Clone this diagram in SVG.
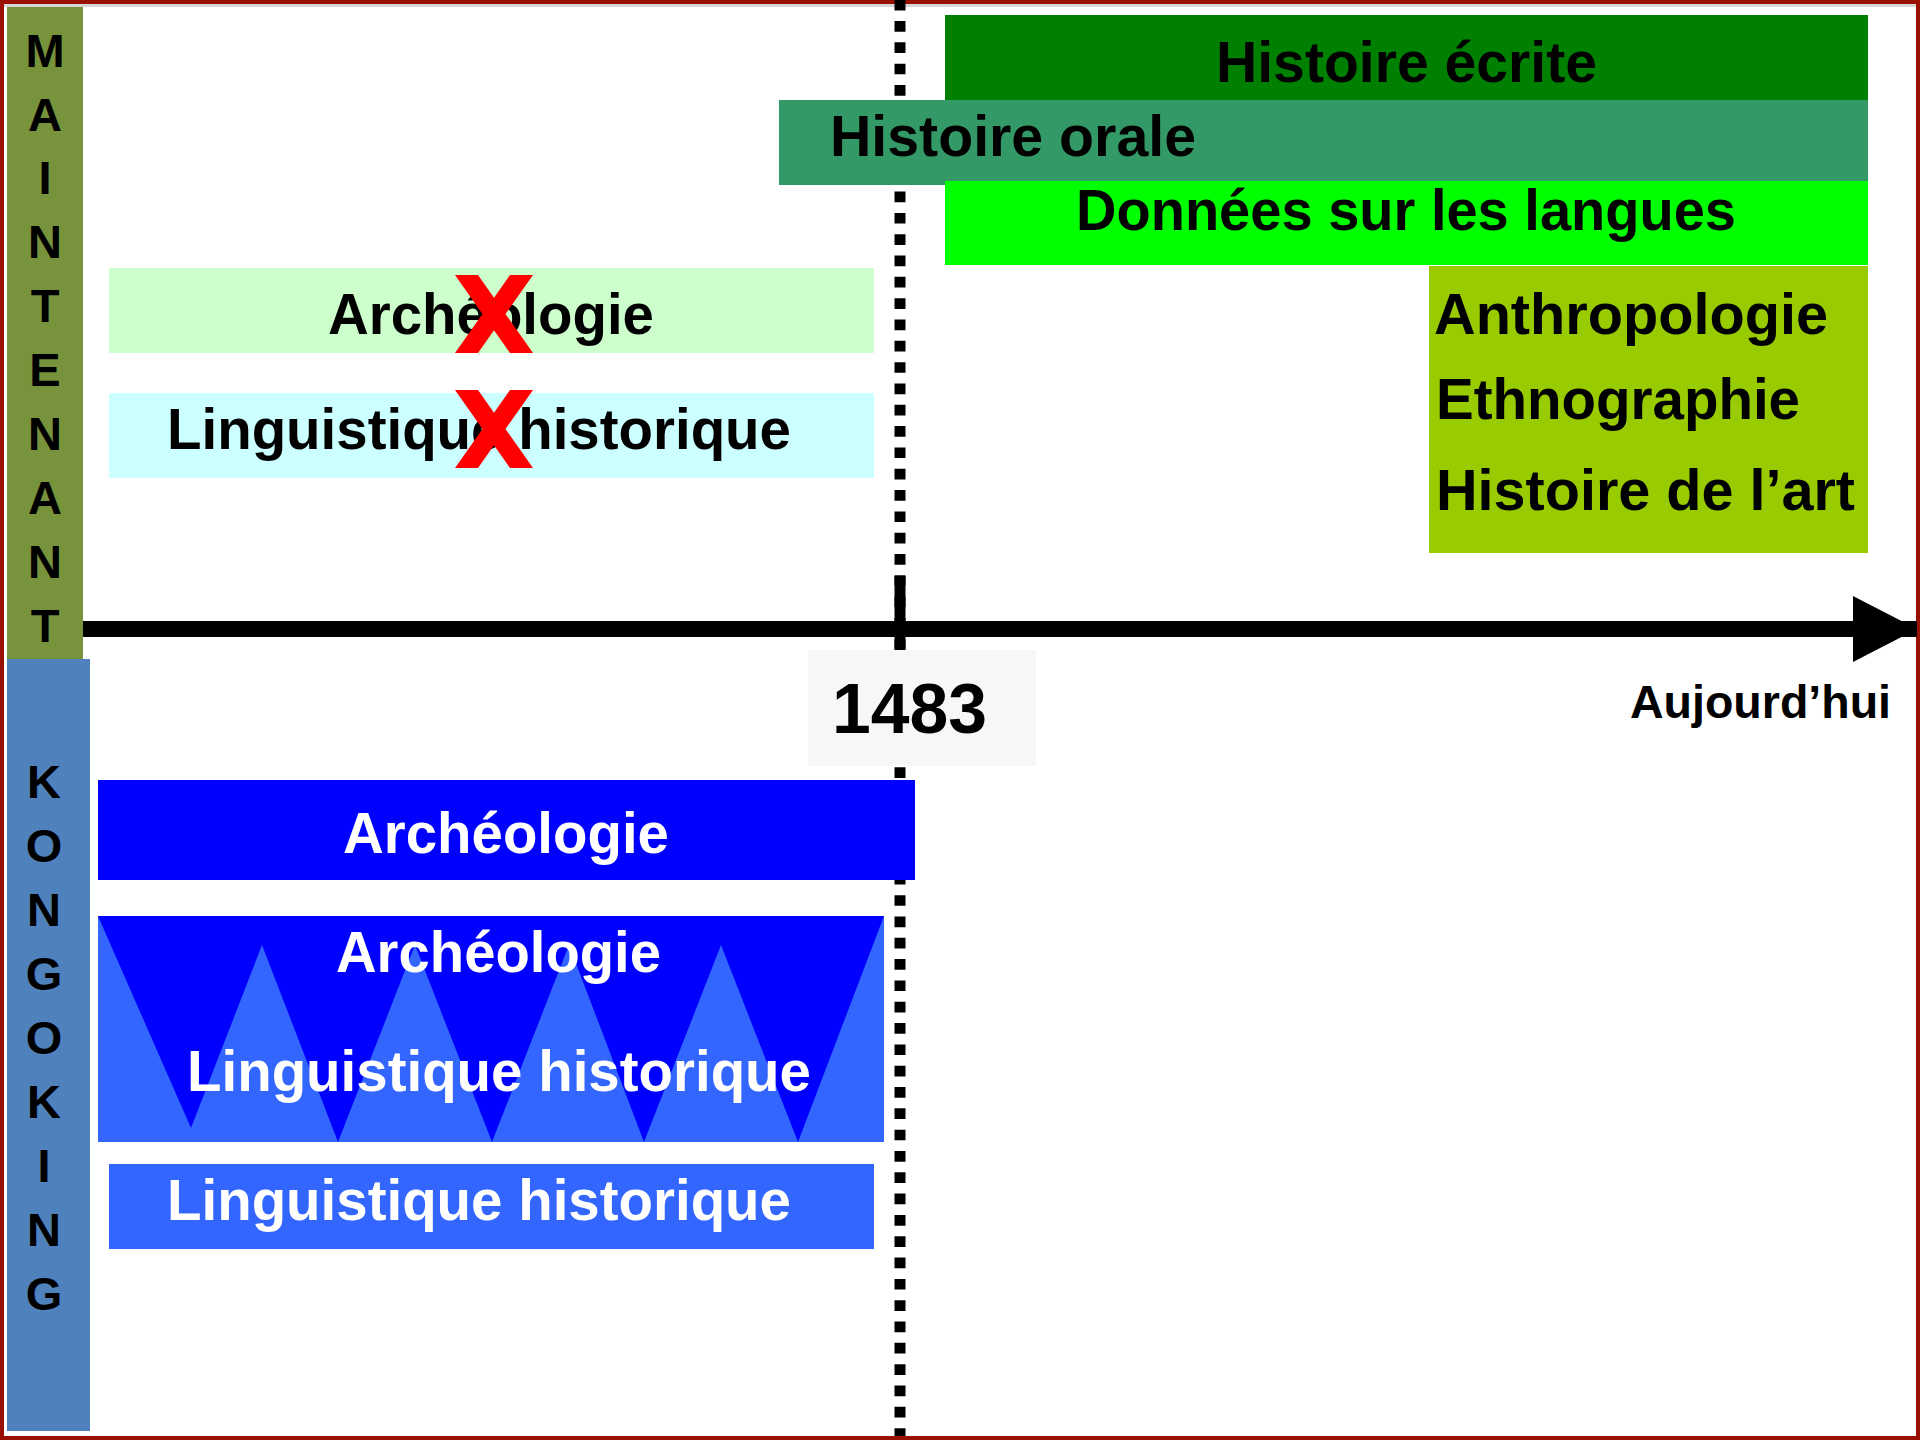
<svg xmlns="http://www.w3.org/2000/svg" xmlns:xlink="http://www.w3.org/1999/xlink" width="1920" height="1440" viewBox="0 0 1920 1440">
<style>
text { font-family: "Liberation Sans", Arial, sans-serif; font-weight: bold; }
.lbl { font-size: 57px; fill: #000; }
.wlbl { font-size: 57px; fill: #fff; }
.vert { font-size: 47px; fill: #000; text-anchor: middle; }
.mid { text-anchor: middle; }
</style>
<defs>
<path id="cross" d="M0,0 L23,0 L39,22.7 L55,0 L78,0 L50.5,39 L78,78 L55,78 L39,55.3 L23,78 L0,78 L27.5,39 Z" fill="#FF0000"/>
<marker id="arrowhead" markerUnits="userSpaceOnUse" markerWidth="66" markerHeight="68" refX="64" refY="33" orient="auto">
<path d="M0,0 L64,33 L0,66 Z" fill="#000"/>
</marker>
</defs>
<rect x="0" y="0" width="1920" height="1440" fill="#fff"/>
<rect x="2" y="2" width="1916" height="1436" fill="none" stroke="#991002" stroke-width="4"/>
<rect x="4" y="4" width="1912" height="3" fill="#D6D6D6"/>

<g id="connectors">
<line x1="900" y1="-0.3" x2="900" y2="1436" stroke="#000" stroke-width="11" stroke-dasharray="10.7 10.62"/>
<line x1="900" y1="576" x2="900" y2="649" stroke="#000" stroke-width="11"/>
<line x1="83" y1="629" x2="1917" y2="629" stroke="#000" stroke-width="16" marker-end="url(#arrowhead)"/>
</g>

<g id="band-maintenant">
<rect x="7" y="7" width="76" height="652" fill="#77933C"/>
<text class="vert" x="45" y="67">M</text>
<text class="vert" x="45" y="131">A</text>
<text class="vert" x="45" y="194">I</text>
<text class="vert" x="45" y="258">N</text>
<text class="vert" x="45" y="322">T</text>
<text class="vert" x="45" y="386">E</text>
<text class="vert" x="45" y="450">N</text>
<text class="vert" x="45" y="514">A</text>
<text class="vert" x="45" y="578">N</text>
<text class="vert" x="45" y="642">T</text>
</g>

<g id="band-kongoking">
<rect x="7" y="659" width="83" height="772" fill="#4F81BD"/>
<text class="vert" x="44" y="798">K</text>
<text class="vert" x="44" y="862">O</text>
<text class="vert" x="44" y="926">N</text>
<text class="vert" x="44" y="990">G</text>
<text class="vert" x="44" y="1054">O</text>
<text class="vert" x="44" y="1118">K</text>
<text class="vert" x="44" y="1182">I</text>
<text class="vert" x="44" y="1246">N</text>
<text class="vert" x="44" y="1310">G</text>
</g>

<g id="histoire-ecrite">
<rect x="945" y="15" width="923" height="85" fill="#008000"/>
<text class="lbl mid" x="1406.5" y="82" textLength="381" lengthAdjust="spacingAndGlyphs">Histoire écrite</text>
</g>

<g id="histoire-orale">
<rect x="779" y="100" width="1089" height="85" fill="#339966"/>
<text class="lbl" x="830" y="156" textLength="366" lengthAdjust="spacingAndGlyphs">Histoire orale</text>
</g>

<g id="donnees-langues">
<rect x="945" y="181" width="923" height="84" fill="#00FF00"/>
<text class="lbl mid" x="1406" y="230" textLength="660" lengthAdjust="spacingAndGlyphs">Données sur les langues</text>
</g>

<g id="anthropologie">
<rect x="1429" y="266" width="439" height="287" fill="#99CC00"/>
<text class="lbl" x="1434" y="334" textLength="394" lengthAdjust="spacingAndGlyphs">Anthropologie</text>
<text class="lbl" x="1436" y="419" textLength="364" lengthAdjust="spacingAndGlyphs">Ethnographie</text>
<text class="lbl" x="1436" y="510" textLength="419" lengthAdjust="spacingAndGlyphs">Histoire de l’art</text>
</g>

<g id="archeologie-maintenant">
<rect x="109" y="268" width="765" height="85" fill="#CCFFCC"/>
<text class="lbl mid" x="491" y="334" textLength="326" lengthAdjust="spacingAndGlyphs">Archéologie</text>
<use xlink:href="#cross" href="#cross" x="455" y="275"/>
</g>

<g id="linguistique-maintenant">
<rect x="109" y="393" width="765" height="85" fill="#CCFFFF"/>
<text class="lbl mid" x="479" y="449" textLength="624" lengthAdjust="spacingAndGlyphs">Linguistique historique</text>
<use xlink:href="#cross" href="#cross" x="455" y="390"/>
</g>

<g id="date-1483">
<rect x="808" y="650" width="228" height="116" fill="#F7F7F7"/>
<text x="832" y="733" font-size="70" fill="#000" textLength="155" lengthAdjust="spacingAndGlyphs">1483</text>
</g>

<g id="aujourdhui">
<text x="1630" y="718" font-size="46" fill="#000" textLength="261" lengthAdjust="spacingAndGlyphs">Aujourd’hui</text>
</g>

<g id="archeologie-kongoking">
<rect x="98" y="780" width="817" height="100" fill="#0000FF"/>
<text class="wlbl mid" x="506" y="853" textLength="326" lengthAdjust="spacingAndGlyphs">Archéologie</text>
</g>

<g id="archeologie-linguistique-kongoking">
<rect x="98" y="916" width="786" height="226" fill="#0000FF"/>
<polygon points="98,916 191,1128 262,945 338,1142 415,945 492,1142 569,945 644,1142 721,945 798,1142 884,916 884,1142 98,1142" fill="#3366FF"/>
<text class="wlbl mid" x="498.5" y="972" textLength="325" lengthAdjust="spacingAndGlyphs">Archéologie</text>
<text class="wlbl mid" x="499" y="1091" textLength="624" lengthAdjust="spacingAndGlyphs">Linguistique historique</text>
</g>

<g id="linguistique-kongoking">
<rect x="109" y="1164" width="765" height="85" fill="#3366FF"/>
<text class="wlbl mid" x="479" y="1220" textLength="624" lengthAdjust="spacingAndGlyphs">Linguistique historique</text>
</g>
</svg>
